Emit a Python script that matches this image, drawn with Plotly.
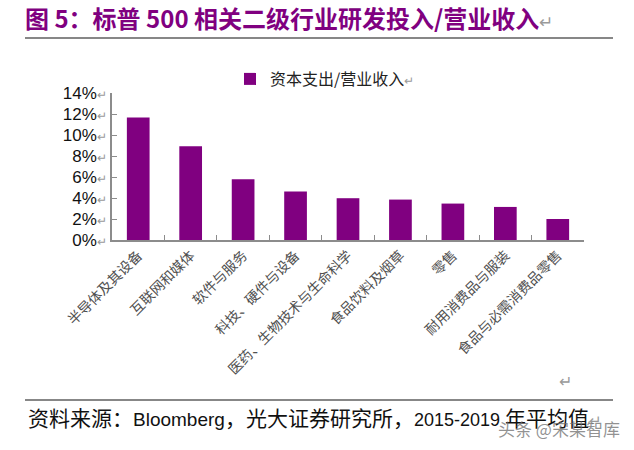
import plotly.graph_objects as go

categories = ["半导体及其设备", "互联网和媒体", "软件与服务", "科技、硬件与设备",
              "医药、生物技术与生命科学", "食品饮料及烟草", "零售", "耐用消费品与服装",
              "食品与必需消费品零售"]
values = [0.1167, 0.0894, 0.0579, 0.0461, 0.0398, 0.0385, 0.0347, 0.0315, 0.0200]
series_name = "资本支出/营业收入"
y_tickvals = [0, 0.02, 0.04, 0.06, 0.08, 0.10, 0.12, 0.14]
y_ticklabels = ["0%", "2%", "4%", "6%", "8%", "10%", "12%", "14%"]

W, H = 634, 450
L, R, T, B = 112, 50, 93, 210
pw, ph = W - L - R, H - T - B

def px_x(x):
    return (x - L) / pw

def px_y(y):
    return (H - B - y) / ph

RET = "<span style='color:#9a9a9a;font-size:12px'>↵</span>"
SANS = "Liberation Sans, Arial, Noto Sans CJK SC, sans-serif"
CJK = "Noto Sans CJK SC, Liberation Sans, sans-serif"
PURPLE = "#800080"

def sp(txt, size):
    return "<span style='font-size:%dpx'>%s</span>" % (size, txt)

source_text = (sp("资料来源：", 21) + sp("Bloomberg", 19) + sp("，光大证券研究所，", 21)
               + sp("2015-2019 ", 18) + sp("年平均值", 21)
               + "<span style='color:#9a9a9a;font-size:15px'>↵</span>")

fig = go.Figure()
fig.add_trace(go.Bar(
    x=categories, y=values, name=series_name + RET,
    marker=dict(color=PURPLE, line=dict(width=0)),
    showlegend=True,
))

fig.update_layout(
    width=W, height=H,
    margin=dict(l=L, r=R, t=T, b=B, pad=0),
    paper_bgcolor="white", plot_bgcolor="white",
    bargap=0.567,
    showlegend=True,
    legend=dict(orientation="h", x=px_x(230), y=px_y(62), xanchor="left", yanchor="top",
                font=dict(family=CJK, size=16, color="#222"),
                bgcolor="rgba(0,0,0,0)", itemwidth=30),
    xaxis=dict(
        type="category", showline=True, linecolor="#8c8c8c", linewidth=1.5,
        ticks="inside", ticklen=5, tickcolor="#8c8c8c", tickwidth=1,
        tickson="boundaries", tickangle=-45,
        tickfont=dict(family=CJK, size=14, color="#505050"),
        showgrid=False, zeroline=False,
    ),
    yaxis=dict(
        range=[0, 0.14], tickvals=y_tickvals,
        ticktext=[t + RET for t in y_ticklabels],
        showline=True, linecolor="#8c8c8c", linewidth=1.5,
        ticks="inside", ticklen=5, tickcolor="#8c8c8c", tickwidth=1,
        tickfont=dict(family=SANS, size=17, color="#111"),
        showgrid=False, zeroline=False,
    ),
    shapes=[
        dict(type="line", xref="paper", yref="paper", x0=px_x(25), x1=px_x(613),
             y0=px_y(38), y1=px_y(38), line=dict(color="#111", width=1.2)),
        dict(type="line", xref="paper", yref="paper", x0=px_x(25), x1=px_x(613),
             y0=px_y(400), y1=px_y(400), line=dict(color="#111", width=1.2)),
    ],
    annotations=[
        dict(xref="paper", yref="paper", x=px_x(23), y=px_y(17), xanchor="left", yanchor="middle",
             showarrow=False,
             text="<b>图 5：标普 500 相关二级行业研发投入/营业收入</b><span style='color:#9a9a9a;font-size:17px'>↵</span>",
             font=dict(family=CJK, size=24, color=PURPLE)),
        dict(xref="paper", yref="paper", x=px_x(26), y=px_y(418), xanchor="left", yanchor="middle",
             showarrow=False, text=source_text,
             font=dict(family=SANS, size=19, color="#111")),
        dict(xref="paper", yref="paper", x=px_x(565), y=px_y(381), xanchor="center", yanchor="middle",
             showarrow=False, text="↵", font=dict(family=SANS, size=16, color="#9a9a9a")),
        dict(xref="paper", yref="paper", x=px_x(622), y=px_y(428), xanchor="right", yanchor="middle",
             showarrow=False, text="头条 @宋某智库",
             font=dict(family=CJK, size=17, color="rgba(110,110,110,0.75)")),
    ],
)

fig.write_html("out.html")
